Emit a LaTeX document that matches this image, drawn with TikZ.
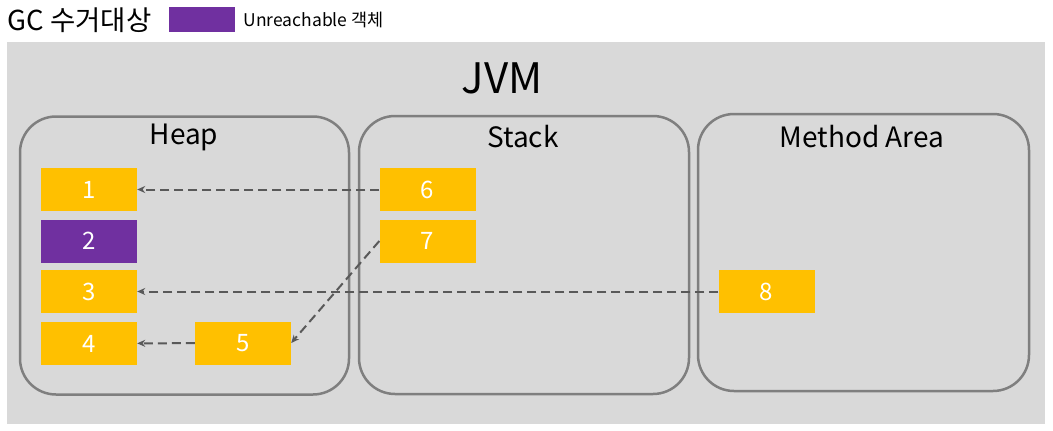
\documentclass[tikz,border=0pt]{standalone}
\usepackage{fontspec}
\setmainfont{Noto Sans CJK KR}
\usetikzlibrary{arrows.meta,positioning}
\definecolor{jvmbg}{HTML}{D9D9D9}
\definecolor{areagray}{HTML}{7F7F7F}
\definecolor{objgold}{HTML}{FFC000}
\definecolor{objpurple}{HTML}{7030A0}
\definecolor{refgray}{HTML}{595959}

\begin{document}
\begin{tikzpicture}[x=1pt,y=-1pt,>={Stealth[length=8pt,width=7pt]},
 area/.style={draw=areagray,line width=2.5pt,rounded corners=36pt,inner sep=0pt,
   minimum width=329pt,minimum height=278pt},
 areatitle/.style={font=\fontsize{28}{30}\selectfont},
 obj/.style={fill=objgold,text=white,inner sep=0pt,minimum width=96pt,minimum height=43pt,
   font=\fontsize{24}{26}\selectfont},
 ref/.style={->,draw=refgray,line width=2pt,dash pattern=on 9pt off 5pt}]
\useasboundingbox (0,0) rectangle (1053,431);
% legend
\node[anchor=west,font=\fontsize{27.5}{29}\selectfont] (gc) at (4,20) {GC 수거대상};
\node[fill=objpurple,minimum width=66pt,minimum height=25pt,inner sep=0pt] (key) at (202,19.5) {};
\node[anchor=west,font=\fontsize{17.5}{19}\selectfont] (keytext) at (240,20) {Unreachable 객체};
% jvm
\fill[jvmbg] (7,42) rectangle (1045,424);
\node[font=\fontsize{42}{44}\selectfont] (jvm) at (502,78) {JVM};
\node[area] (heap) at (184.5,255.5) {};
\node[area,minimum width=330pt] (stack) at (524,255) {};
\node[area,minimum width=331pt,minimum height=277pt] (method) at (863.5,252.5) {};
\node[areatitle] (heapT) at (184,137) {Heap};
\node[areatitle] (stackT) at (523,137) {Stack};
\node[areatitle] (methodT) at (862,137) {Method Area};
% objects
\node[obj] (o1) at (89,189.5) {1};
\node[obj,fill=objpurple] (o2) at (89,241) {2};
\node[obj] (o3) at (89,291.5) {3};
\node[obj] (o4) at (89,343.5) {4};
\node[obj] (o5) at (243,343) {5};
\node[obj] (o6) at (427.5,189.5) {6};
\node[obj] (o7) at (427.5,241) {7};
\node[obj] (o8) at (766.5,291.5) {8};
\draw[ref] (o6)--(o1); \draw[ref] (o8)--(o3);
\draw[ref] (o5)--(o4); \draw[ref] (o7.west)--(o5.east);
\end{tikzpicture}
\end{document}
